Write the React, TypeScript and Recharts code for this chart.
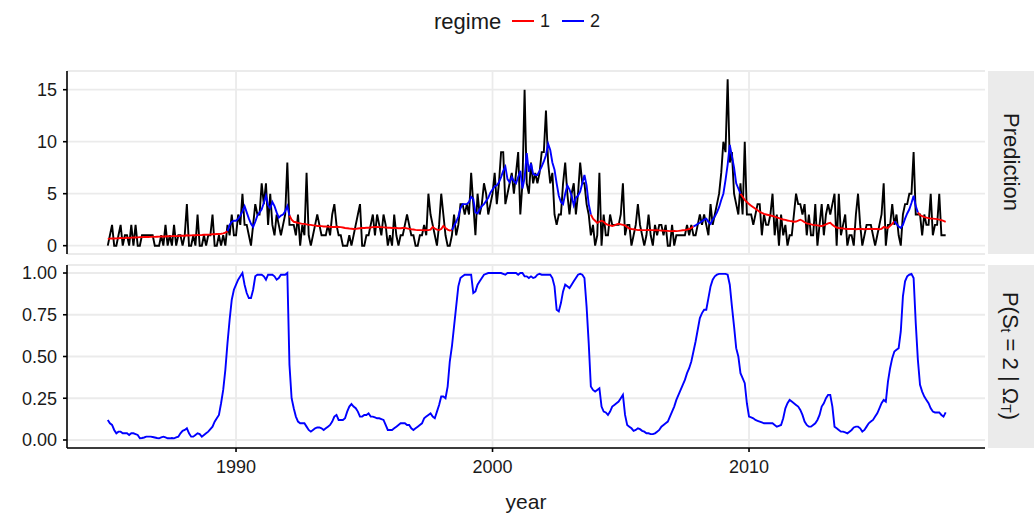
import { LineChart, Line, XAxis, YAxis, CartesianGrid, ReferenceLine } from "recharts";

const startYear = 1985;
const yearTicks = [1990, 2000, 2010];
const countTicks = [0, 5, 10, 15];
const probTicks = [0, 0.25, 0.5, 0.75, 1];

// monthly observed counts, one row per year (1985 .. Sep 2017)
const observed = [
  0, 1, 2, 0, 0, 1, 2, 0, 1, 1, 0, 2,
  0, 2, 0, 0, 1, 1, 1, 1, 1, 1, 0, 0,
  0, 1, 0, 2, 0, 1, 0, 2, 0, 1, 1, 0,
  1, 4, 0, 0, 1, 0, 3, 0, 0, 1, 0, 1,
  1, 3, 0, 0, 1, 0, 1, 0, 2, 1, 3, 1,
  1, 3, 2, 5, 2, 2, 1, 0, 2, 4, 3, 3,
  6, 4, 6, 2, 5, 2, 1, 3, 2, 1, 2, 3,
  8, 2, 2, 2, 1, 3, 0, 2, 1, 7, 1, 0,
  1, 2, 3, 2, 1, 1, 1, 2, 1, 3, 4, 2,
  1, 1, 0, 0, 0, 1, 0, 1, 2, 3, 4, 0,
  0, 1, 1, 2, 3, 1, 3, 2, 1, 3, 2, 0,
  1, 0, 3, 1, 0, 1, 1, 2, 3, 2, 1, 1,
  0, 0, 1, 1, 2, 1, 5, 3, 2, 1, 0, 2,
  5, 3, 1, 0, 0, 1, 3, 1, 2, 4, 4, 3,
  4, 3, 7, 4, 1, 5, 3, 4, 6, 5, 3, 4,
  5, 7, 4, 6, 9, 9, 4, 5, 6, 7, 5, 7,
  9, 3, 6, 15, 6, 5, 8, 6, 7, 6, 7, 9,
  9, 13, 8, 6, 7, 3, 2, 3, 3, 6, 8, 5,
  3, 5, 6, 3, 5, 8, 6, 6, 4, 3, 1, 2,
  0, 1, 7, 0, 3, 1, 1, 3, 2, 2, 2, 2,
  3, 6, 1, 2, 2, 0, 1, 2, 4, 2, 1, 0,
  1, 3, 1, 0, 2, 1, 2, 2, 1, 2, 0, 0,
  2, 0, 1, 1, 1, 1, 1, 2, 1, 2, 1, 1,
  2, 3, 2, 3, 2, 1, 4, 2, 3, 4, 5, 7,
  10, 9, 16, 8, 9, 5, 4, 3, 6, 3, 10, 3,
  3, 3, 2, 3, 4, 4, 1, 3, 2, 2, 3, 5,
  1, 3, 0, 3, 1, 2, 0, 1, 1, 3, 5, 4,
  4, 3, 4, 1, 3, 1, 1, 4, 0, 2, 4, 1,
  3, 4, 3, 4, 5, 0, 5, 1, 2, 3, 0, 1,
  1, 0, 3, 5, 2, 0, 1, 2, 2, 2, 1, 0,
  1, 2, 3, 6, 0, 2, 2, 4, 2, 3, 1, 0,
  3, 4, 4, 5, 5, 9, 3, 3, 3, 1, 3, 2,
  2, 5, 1, 2, 2, 5, 1, 1, 1,
];

// predicted mean
const predicted = [
  0.65, 0.68, 0.7, 0.69, 0.7, 0.72, 0.74, 0.73, 0.74, 0.76, 0.75, 0.78,
  0.8, 0.79, 0.8, 0.82, 0.82, 0.83, 0.84, 0.84, 0.85, 0.86, 0.85, 0.86,
  0.87, 0.88, 0.88, 0.89, 0.9, 0.9, 0.92, 0.93, 0.92, 0.93, 0.95, 0.95,
  0.96, 1.0, 0.98, 0.99, 1.0, 1.01, 1.03, 1.02, 1.03, 1.05, 1.05, 1.06,
  1.07, 1.1, 1.1, 1.12, 1.13, 1.15, 1.18, 1.25, 1.4, 2.0, 2.3, 2.4,
  2.4, 2.6, 2.9, 3.3, 3.8, 3.2, 2.6, 2.1, 1.8, 2.3, 2.9, 3.2,
  3.5, 4.1, 4.8, 3.9, 3.6, 4.2, 3.8, 3.2, 2.7, 2.9, 3.0, 3.3,
  3.8, 2.9, 2.5, 2.3, 2.25, 2.2, 2.15, 2.1, 2.1, 2.05, 2.0, 2.0,
  1.95, 1.95, 1.9, 1.9, 1.88, 1.85, 1.85, 1.83, 1.82, 1.8, 1.8, 1.82,
  1.8, 1.78, 1.75, 1.7, 1.68, 1.65, 1.63, 1.6, 1.62, 1.65, 1.68, 1.7,
  1.7, 1.72, 1.72, 1.75, 1.78, 1.8, 1.8, 1.78, 1.78, 1.76, 1.75, 1.73,
  1.72, 1.7, 1.7, 1.7, 1.68, 1.68, 1.7, 1.7, 1.66, 1.62, 1.58, 1.55,
  1.52, 1.5, 1.5, 1.5, 1.48, 1.5, 1.5, 1.55, 1.8, 1.65, 1.55, 1.5,
  1.6, 1.9, 1.7, 1.55, 1.45, 1.5, 1.9, 2.3, 2.8, 3.6, 4.0, 4.0,
  4.0, 4.2, 4.7, 4.5, 3.2, 3.1, 3.5, 3.8, 4.0, 4.3, 4.6, 5.1,
  5.4, 5.7, 5.8, 6.1, 6.6, 7.2, 7.6, 6.4, 6.1, 6.6, 6.2, 6.0,
  6.6, 7.2, 5.5, 6.5, 8.9, 7.1, 7.9, 6.9, 6.8, 6.8, 7.2, 7.6,
  8.1, 8.7, 9.8, 9.2, 8.0, 7.3, 6.0, 4.8, 4.2, 4.0, 5.0, 5.8,
  5.4, 4.8, 3.9, 4.6, 4.8, 5.2, 6.0, 6.8, 5.8, 4.0, 3.0, 2.6,
  2.4, 2.2, 2.3, 2.4, 2.3, 2.1, 2.0, 1.95, 1.9, 1.95, 2.05, 2.1,
  2.05, 2.0, 1.95, 1.8, 1.65, 1.6, 1.58, 1.55, 1.5, 1.52, 1.5, 1.5,
  1.5, 1.52, 1.5, 1.5, 1.48, 1.48, 1.47, 1.45, 1.45, 1.42, 1.42, 1.4,
  1.4, 1.42, 1.4, 1.42, 1.45, 1.48, 1.5, 1.55, 1.6, 1.7, 1.85, 1.95,
  2.1, 2.2, 2.35, 2.5, 2.6, 2.3, 2.1, 2.5, 2.8, 3.2, 3.7, 4.4,
  5.0, 6.3, 7.8, 9.7, 8.6, 7.5, 6.0, 5.5, 5.0, 4.7, 4.4, 4.2,
  4.0, 3.85, 3.7, 3.55, 3.4, 3.25, 3.15, 3.05, 3.0, 2.95, 2.9, 2.85,
  2.8, 2.72, 2.65, 2.58, 2.52, 2.48, 2.42, 2.38, 2.35, 2.3, 2.32, 2.4,
  2.5, 2.4, 2.25, 2.15, 2.1, 2.05, 2.0, 1.98, 1.95, 1.92, 1.9, 1.95,
  2.05, 2.15, 2.2, 2.0, 1.85, 1.75, 1.7, 1.67, 1.65, 1.62, 1.6, 1.6,
  1.6, 1.6, 1.58, 1.6, 1.62, 1.6, 1.58, 1.6, 1.62, 1.6, 1.6, 1.6,
  1.6, 1.58, 1.62, 1.8, 1.75, 1.7, 1.9, 2.1, 2.35, 2.1, 1.85, 1.7,
  2.0, 2.6, 3.1, 3.5, 4.1, 4.8, 3.8, 3.2, 2.95, 2.85, 2.75, 2.7,
  2.65, 2.62, 2.6, 2.58, 2.55, 2.5, 2.45, 2.38, 2.3,
];

// smoothed probability of regime 2
const probRegime2 = [
  0.12, 0.1, 0.09, 0.06, 0.04, 0.05, 0.05, 0.04, 0.04, 0.04, 0.03, 0.04,
  0.04, 0.035, 0.03, 0.01, 0.012, 0.015, 0.02, 0.02, 0.02, 0.018, 0.015, 0.012,
  0.01, 0.015, 0.02, 0.015, 0.01, 0.01, 0.012, 0.01, 0.015, 0.02, 0.04, 0.055,
  0.06, 0.07, 0.04, 0.02, 0.02, 0.03, 0.04, 0.035, 0.02, 0.03, 0.04, 0.05,
  0.065, 0.08, 0.11, 0.13, 0.15, 0.22, 0.3, 0.42, 0.58, 0.72, 0.84, 0.9,
  0.93, 0.96, 0.98, 1.0, 0.93, 0.88, 0.85, 0.85, 0.9, 0.98, 0.99, 0.99,
  0.99, 0.98, 0.96, 0.99, 0.99, 0.99, 0.98, 0.96, 0.97, 0.99, 0.99, 0.99,
  1.0, 0.45, 0.25, 0.19, 0.14, 0.11, 0.1, 0.1, 0.1, 0.08, 0.06, 0.05,
  0.06, 0.07, 0.075, 0.075, 0.07, 0.06, 0.07, 0.08, 0.09, 0.11, 0.14, 0.15,
  0.12, 0.12, 0.12, 0.13, 0.17, 0.2, 0.215, 0.2, 0.19, 0.17, 0.14, 0.14,
  0.15, 0.15, 0.16, 0.14, 0.14, 0.135, 0.13, 0.13, 0.125, 0.12, 0.09, 0.06,
  0.06, 0.06, 0.07, 0.08, 0.09, 0.1, 0.1, 0.1, 0.09, 0.09, 0.07, 0.06,
  0.07, 0.08, 0.09, 0.1, 0.13, 0.14, 0.15, 0.16, 0.14, 0.13, 0.17, 0.21,
  0.26, 0.26, 0.25, 0.32, 0.47, 0.56, 0.68, 0.8, 0.92, 0.97, 0.98, 0.99,
  0.99, 0.99, 0.99, 0.88, 0.89, 0.93, 0.95, 0.97, 0.99, 0.995, 1.0, 1.0,
  1.0, 1.0, 1.0, 1.0, 1.0, 0.995, 0.99, 1.0, 1.0, 1.0, 1.0, 1.0,
  0.99, 1.0, 1.0, 0.98, 0.98, 0.97, 0.98, 0.97, 0.975, 0.99, 0.995, 0.99,
  0.99, 0.99, 0.99, 0.99, 0.97, 0.92, 0.78, 0.77, 0.82, 0.89, 0.93, 0.92,
  0.91, 0.93, 0.95, 0.97, 0.99, 0.995, 0.99, 0.97, 0.8, 0.58, 0.32, 0.3,
  0.29, 0.3, 0.31, 0.2, 0.17, 0.165, 0.15, 0.17, 0.2, 0.21, 0.22, 0.23,
  0.25, 0.27, 0.15, 0.09, 0.08, 0.07, 0.055, 0.06, 0.07, 0.065, 0.055, 0.05,
  0.04, 0.04, 0.035, 0.035, 0.04, 0.05, 0.06, 0.08, 0.09, 0.1, 0.11, 0.14,
  0.17, 0.2, 0.24, 0.27, 0.3, 0.33, 0.36, 0.4, 0.43, 0.47, 0.53, 0.59,
  0.66, 0.73, 0.76, 0.78, 0.78, 0.85, 0.92, 0.96, 0.98, 0.99, 0.995, 0.995,
  0.995, 0.995, 0.99, 0.93, 0.8, 0.68, 0.55, 0.5, 0.4, 0.37, 0.34, 0.22,
  0.14, 0.135, 0.13, 0.12, 0.115, 0.11, 0.105, 0.1, 0.1, 0.1, 0.1, 0.1,
  0.09, 0.08, 0.085, 0.09, 0.13, 0.19, 0.22, 0.24, 0.23, 0.22, 0.21, 0.2,
  0.18, 0.15, 0.11, 0.09, 0.08, 0.08, 0.09, 0.1, 0.12, 0.15, 0.2, 0.22,
  0.25, 0.27, 0.27, 0.2, 0.08, 0.07, 0.06, 0.05, 0.05, 0.045, 0.04, 0.05,
  0.06, 0.075, 0.08, 0.08, 0.07, 0.05, 0.06, 0.08, 0.1, 0.11, 0.12, 0.14,
  0.16, 0.19, 0.22, 0.24, 0.23, 0.35, 0.43, 0.49, 0.53, 0.54, 0.55, 0.65,
  0.86, 0.95, 0.98, 0.99, 0.995, 0.97, 0.7, 0.48, 0.33, 0.29, 0.26, 0.24,
  0.22, 0.19, 0.17, 0.165, 0.165, 0.165, 0.15, 0.14, 0.165,
];

const regime = probRegime2.map((p) => (p >= 0.5 ? 2 : 1));

// each segment takes the colour of its starting month
const rows = observed.map((obs, i) => {
  const r = regime[i];
  const prev = i > 0 ? regime[i - 1] : r;
  return {
    year: startYear + i / 12,
    obs,
    prob: probRegime2[i],
    reg1: r === 1 || prev === 1 ? predicted[i] : null,
    reg2: r === 2 || prev === 2 ? predicted[i] : null,
  };
});

const FONT = "'Liberation Sans', Arial, Helvetica, sans-serif";
const xDomain = [1983.41, 2019.2];
const gridColor = "#ebebeb";
const ink = "#1a1a1a";
const tickStyle = { fill: ink, fontSize: 18, fontFamily: FONT };
const axisStroke = { stroke: "#000", strokeWidth: 1.6 };

export default function App() {
  return (
    <div style={{ position: "absolute", left: 0, top: 0, width: 1034, height: 516, background: "#fff", fontFamily: FONT }}>
      {/* top facet: plot area y 71..254 */}
      <div style={{ position: "absolute", left: 0, top: 0 }}>
        <LineChart width={1034} height={262} data={rows} margin={{ top: 71, right: 49, bottom: 8, left: 0 }}>
          <CartesianGrid vertical={false} stroke={gridColor} strokeWidth={1.8} />
          {yearTicks.map((t) => (
            <ReferenceLine key={t} x={t} stroke={gridColor} strokeWidth={1.8} />
          ))}
          <XAxis dataKey="year" type="number" domain={xDomain} ticks={yearTicks} hide allowDataOverflow />
          <YAxis
            type="number"
            domain={[-0.8, 16.8]}
            ticks={countTicks}
            interval={0}
            width={67}
            axisLine={axisStroke}
            tickLine={axisStroke}
            tickSize={4}
            tickMargin={6}
            tick={tickStyle}
            allowDataOverflow
          />
          <Line dataKey="obs" stroke="#000" strokeWidth={1.9} dot={false} isAnimationActive={false} />
          <Line dataKey="reg1" stroke="#ff0000" strokeWidth={1.9} dot={false} isAnimationActive={false} />
          <Line dataKey="reg2" stroke="#0000ff" strokeWidth={1.9} dot={false} isAnimationActive={false} />
        </LineChart>
      </div>
      {/* bottom facet: plot area y 265..448 */}
      <div style={{ position: "absolute", left: 0, top: 255 }}>
        <LineChart width={1034} height={261} data={rows} margin={{ top: 10, right: 49, bottom: 0, left: 0 }}>
          <CartesianGrid vertical={false} stroke={gridColor} strokeWidth={1.8} />
          {yearTicks.map((t) => (
            <ReferenceLine key={t} x={t} stroke={gridColor} strokeWidth={1.8} />
          ))}
          <XAxis
            dataKey="year"
            type="number"
            domain={xDomain}
            ticks={yearTicks}
            interval={0}
            height={68}
            axisLine={axisStroke}
            tickLine={axisStroke}
            tickSize={4}
            tickMargin={8}
            tick={tickStyle}
            allowDataOverflow
          />
          <YAxis
            type="number"
            domain={[-0.048, 1.048]}
            ticks={probTicks}
            interval={0}
            width={67}
            axisLine={axisStroke}
            tickLine={axisStroke}
            tickSize={4}
            tickMargin={6}
            tick={tickStyle}
            tickFormatter={(v: number) => v.toFixed(2)}
            allowDataOverflow
          />
          <Line dataKey="prob" stroke="#0000ff" strokeWidth={1.9} dot={false} isAnimationActive={false} />
        </LineChart>
      </div>
      <svg width={1034} height={516} style={{ position: "absolute", left: 0, top: 0, pointerEvents: "none" }}>
        {/* legend */}
        <text x={434} y={29} fontSize={22} fill={ink} fontFamily={FONT}>regime</text>
        <line x1={512} x2={534} y1={21} y2={21} stroke="#ff0000" strokeWidth={2} />
        <text x={540} y={27} fontSize={18} fill={ink} fontFamily={FONT}>1</text>
        <line x1={562} x2={584} y1={21} y2={21} stroke="#0000ff" strokeWidth={2} />
        <text x={590} y={27} fontSize={18} fill={ink} fontFamily={FONT}>2</text>
        {/* facet strips */}
        <rect x={988} y={71} width={46} height={183} fill="#ebebeb" />
        <rect x={988} y={265} width={46} height={183} fill="#ebebeb" />
        <text transform="translate(1011,162) rotate(90)" textAnchor="middle" dominantBaseline="central" fontSize={22} fill={ink} fontFamily={FONT}>
          Prediction
        </text>
        <text transform="translate(1011,356) rotate(90)" textAnchor="middle" dominantBaseline="central" fontSize={22} fill={ink} fontFamily={FONT}>
          <tspan>P(S</tspan>
          <tspan fontSize={14} dy={5}>t</tspan>
          <tspan dy={-5}> = 2 | Ω</tspan>
          <tspan fontSize={14} dy={5}>T</tspan>
          <tspan dy={-5}>)</tspan>
        </text>
        <text x={526} y={509} textAnchor="middle" fontSize={21} fill={ink} fontFamily={FONT}>year</text>
      </svg>
    </div>
  );
}
